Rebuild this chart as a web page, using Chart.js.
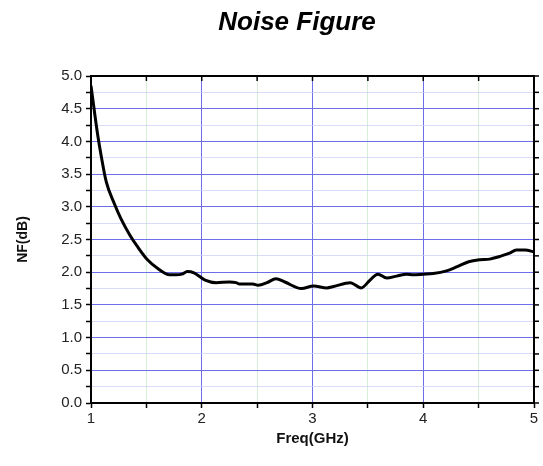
<!DOCTYPE html>
<html>
<head>
<meta charset="utf-8">
<script src="https://cdn.jsdelivr.net/npm/chart.js@4"></script>
<style>
  html, body { margin: 0; padding: 0; background: #fff; }
  #wrap { width: 543px; height: 466px; }
</style>
</head>
<body>
<div id="wrap"><canvas id="nf"></canvas></div>
<script>
// ── Data ────────────────────────────────────────────────────────
const freqGHz = [1.0, 1.033, 1.063, 1.093, 1.138, 1.21, 1.27, 1.35, 1.42, 1.51, 1.60, 1.71, 1.77,
  1.82, 1.87, 1.93,
  2.03, 2.13, 2.25, 2.31, 2.34, 2.46, 2.51, 2.59, 2.67, 2.75, 2.90, 3.01, 3.13, 3.19,
  3.34, 3.44, 3.52, 3.59, 3.67, 3.76, 3.85, 3.91, 4.0, 4.09, 4.21, 4.30, 4.41, 4.51,
  4.60, 4.69, 4.78, 4.84, 4.92, 5.0];
const noiseDb = [4.85, 4.43, 4.07, 3.77, 3.38, 3.05, 2.82, 2.57, 2.39, 2.19, 2.06, 1.96, 1.96,
  1.97, 2.01, 1.99,
  1.88, 1.84, 1.85, 1.84, 1.82, 1.82, 1.80, 1.84, 1.90, 1.85, 1.75, 1.79, 1.76, 1.78,
  1.84, 1.76, 1.88, 1.97, 1.91, 1.94, 1.97, 1.96, 1.97, 1.98, 2.02, 2.08, 2.16, 2.19,
  2.20, 2.24, 2.29, 2.34, 2.34, 2.31];

const chartTitle = 'Noise Figure';
const xTitle = 'Freq(GHz)';
const yTitle = 'NF(dB)';

const MAJOR = 'rgb(110,110,235)';
const MINOR_Y = 'rgba(200,205,245,0.7)';
const MINOR_X = 'rgba(205,235,205,0.8)';

// ── Frame, top/right ticks and title ─────────────────────────────
const framePlugin = {
  id: 'frame',
  afterDraw(chart) {
    const { ctx, chartArea: a, scales } = chart;
    ctx.save();
    ctx.strokeStyle = '#000';
    ctx.lineWidth = 2;
    ctx.beginPath();
    ctx.moveTo(a.left, a.top); ctx.lineTo(a.right, a.top); ctx.lineTo(a.right, a.bottom);
    ctx.stroke();
    ctx.lineWidth = 1.5;
    scales.x.ticks.forEach(t => {
      const px = scales.x.getPixelForValue(t.value);
      ctx.beginPath(); ctx.moveTo(px, a.top); ctx.lineTo(px, a.top + 5); ctx.stroke();
    });
    scales.y.ticks.forEach(t => {
      const py = scales.y.getPixelForValue(t.value);
      ctx.beginPath(); ctx.moveTo(a.right, py); ctx.lineTo(a.right + 5, py); ctx.stroke();
    });
    ctx.fillStyle = '#000';
    ctx.font = 'italic bold 26px "Liberation Sans", Arial, sans-serif';
    ctx.textAlign = 'center';
    ctx.textBaseline = 'alphabetic';
    ctx.fillText(chartTitle, 297, 30);
    ctx.restore();
  }
};

const isMajor = (v, step) => Math.abs(v / step - Math.round(v / step)) < 1e-6;

new Chart(document.getElementById('nf'), {
  type: 'line',
  data: {
    datasets: [{
      data: freqGHz.map((f, i) => ({ x: f, y: noiseDb[i] })),
      borderColor: '#000',
      borderWidth: 3,
      pointRadius: 0,
      cubicInterpolationMode: 'monotone',
      fill: false
    }]
  },
  options: {
    responsive: true,
    maintainAspectRatio: false,
    animation: false,
    layout: { padding: { top: 76, right: 9, left: 0, bottom: 0 } },
    plugins: { legend: { display: false }, tooltip: { enabled: false }, title: { display: false } },
    scales: {
      x: {
        type: 'linear',
        min: 1, max: 5,
        afterFit: s => { s.height = 63; },
        ticks: {
          stepSize: 0.5,
          autoSkip: false,
          maxRotation: 0,
          padding: 2,
          color: '#222',
          font: { family: '"Liberation Sans", Arial, sans-serif', size: 15 },
          callback: v => isMajor(v, 1) ? String(v) : ''
        },
        grid: {
          color: c => isMajor(c.tick.value, 1) ? MAJOR : MINOR_X,
          lineWidth: 1,
          tickColor: '#000',
          tickLength: 5,
          tickWidth: 1.5
        },
        border: { color: '#000', width: 2 },
        title: {
          display: true, text: xTitle, color: '#111',
          font: { family: '"Liberation Sans", Arial, sans-serif', size: 15, weight: 'bold' },
          padding: { top: 0, bottom: 18 }
        }
      },
      y: {
        min: 0, max: 5,
        afterFit: s => { s.width = 91; },
        ticks: {
          stepSize: 0.25,
          autoSkip: false,
          padding: 4,
          color: '#222',
          font: { family: '"Liberation Sans", Arial, sans-serif', size: 15 },
          callback: v => isMajor(v, 0.5) ? v.toFixed(1) : ''
        },
        grid: {
          color: c => isMajor(c.tick.value, 0.5) ? MAJOR : MINOR_Y,
          lineWidth: 1,
          tickColor: '#000',
          tickLength: 5,
          tickWidth: 1.5
        },
        border: { color: '#000', width: 2 },
        title: {
          display: true, text: yTitle, color: '#111',
          font: { family: '"Liberation Sans", Arial, sans-serif', size: 14, weight: 'bold' },
          padding: { top: 15, bottom: 0 }
        }
      }
    }
  },
  plugins: [framePlugin]
});
</script>
</body>
</html>
